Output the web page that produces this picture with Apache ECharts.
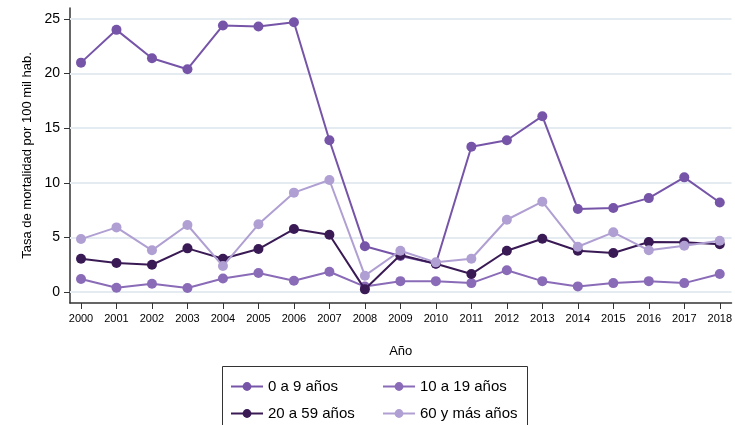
<!DOCTYPE html>
<html><head><meta charset="utf-8">
<script src="https://cdn.jsdelivr.net/npm/echarts@6/dist/echarts.min.js"></script>
<style>html,body{margin:0;padding:0;background:#fff}#c{width:735px;height:425px}</style>
</head><body><div id="c"></div>
<script>
var years = [2000,2001,2002,2003,2004,2005,2006,2007,2008,2009,2010,2011,2012,2013,2014,2015,2016,2017,2018];
var yTicks = [0,5,10,15,20,25];
var seriesNames = ['0 a 9 años','10 a 19 años','20 a 59 años','60 y más años'];
var s0a9   = [21.0,24.0,21.4,20.4,24.4,24.3,24.7,13.9,4.2,3.3,2.6,13.3,13.9,16.1,7.6,7.7,8.6,10.5,8.2];
var s10a19 = [1.2,0.4,0.76,0.37,1.25,1.74,1.04,1.86,0.5,1.0,1.0,0.82,1.99,1.0,0.52,0.82,1.0,0.82,1.65];
var s20a59 = [3.05,2.66,2.5,4.0,3.05,3.94,5.77,5.25,0.25,3.4,2.6,1.65,3.78,4.88,3.78,3.57,4.58,4.55,4.37];
var s60    = [4.85,5.92,3.82,6.14,2.38,6.2,9.1,10.26,1.5,3.78,2.72,3.05,6.62,8.27,4.15,5.47,3.82,4.24,4.7];
var colors = ['#7654a8','#8a6bb8','#3a1a55','#b09fd2'];
var allData = [s0a9,s10a19,s20a59,s60];

var font = 'Liberation Sans, Arial, sans-serif';
var series = allData.map(function(d,i){
  return {
    name: seriesNames[i], type:'line', symbol:'circle', symbolSize:10,
    data: years.map(function(y,j){return [y,d[j]];}),
    lineStyle:{width:2,color:colors[i]}, itemStyle:{color:colors[i]},
    z: 3+i
  };
});
series[0].markLine = {
  silent:true, symbol:['none','none'], label:{show:false}, z:1,
  lineStyle:{color:'#e4ebf1',width:2,type:'solid'},
  emphasis:{disabled:true},
  data: yTicks.map(function(v){return {yAxis:v};})
};

var legendBase = {orient:'vertical',top:379,padding:0,height:60,itemWidth:32,itemHeight:11,itemGap:12,
  textStyle:{fontSize:15,color:'#000',fontFamily:font}};

var chart = echarts.init(document.getElementById('c'));
chart.setOption({
  animation:false,
  grid:{left:70,right:0,top:8,bottom:122},
  xAxis:{
    type:'value', min:1999.69, max:2018.33,
    name:'Año', nameLocation:'middle', nameGap:42,
    nameTextStyle:{color:'#000',fontSize:13,fontFamily:font},
    axisLine:{show:true,onZero:false,lineStyle:{color:'#333',width:1.5}},
    axisTick:{show:true,length:6,customValues:years,lineStyle:{color:'#333'}},
    axisLabel:{customValues:years,color:'#000',fontSize:11,fontFamily:font,margin:10,formatter:function(v){return String(v);}},
    splitLine:{show:false}
  },
  yAxis:{
    type:'value', min:-1, max:26,
    name:'Tasa de mortalidad por 100 mil hab.', nameLocation:'middle', nameGap:35,
    nameTextStyle:{color:'#000',fontSize:13,fontFamily:font},
    axisLine:{show:true,onZero:false,lineStyle:{color:'#333',width:1.5}},
    axisTick:{show:true,length:6,customValues:yTicks,lineStyle:{color:'#333'}},
    axisLabel:{customValues:yTicks,color:'#000',fontSize:14,fontFamily:font,margin:10},
    splitLine:{show:false}
  },
  legend:[
    Object.assign({}, legendBase, {left:230, data:[seriesNames[0],seriesNames[2]]}),
    Object.assign({}, legendBase, {left:382, data:[seriesNames[1],seriesNames[3]]})
  ],
  graphic:[{type:'rect',shape:{x:222.5,y:366.5,width:305,height:80},style:{fill:'none',stroke:'#333',lineWidth:1},silent:true}],
  series: series
});
</script></body></html>
